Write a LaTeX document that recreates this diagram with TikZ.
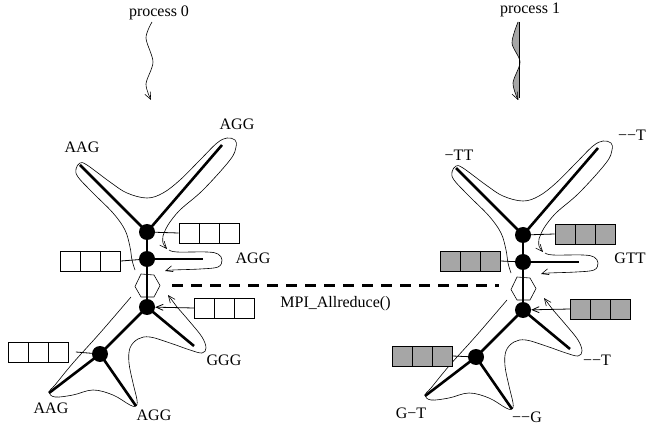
\documentclass[tikz,border=0pt]{standalone}
\usepackage{fontspec}
\setmainfont{Liberation Serif}
\usetikzlibrary{arrows.meta,shapes.geometric}
\tikzset{
  dot/.style={circle,fill=black,inner sep=0pt,minimum size=16pt},
  hexline/.style={line width=0.6pt},
  branch/.style={line width=2.6pt},
  contour/.style={line width=0.6pt},
  tipped/.style={-{Straight Barb[length=7pt,width=6pt]}},
  cellbox/.style={draw,line width=0.8pt,minimum width=60pt,minimum height=20pt,inner sep=0pt,
    path picture={\draw[line width=0.8pt]
      ([xshift=-10pt]path picture bounding box.north) -- ([xshift=-10pt]path picture bounding box.south)
      ([xshift=10pt]path picture bounding box.north) -- ([xshift=10pt]path picture bounding box.south);}},
  graybox/.style={cellbox,fill=black!35},
  lbl/.style={font=\fontsize{16}{19}\selectfont,inner sep=0pt},
  link/.style={line width=0.8pt},
  mpi/.style={line width=2.6pt,dash pattern=on 11pt off 8pt},
}
\newcommand\phylotree[1]{%
  \node[dot] (#1a) at (147,232) {};
  \node[dot] (#1b) at (147,259) {};
  \node[dot] (#1c) at (147,307) {};
  \node[dot] (#1d) at (100,354) {};
  \coordinate (#1h) at (147,285.5);
  \coordinate (#1hw) at (135,286.5);
  \coordinate (#1he) at (160,285.5);
  \draw[hexline] (#1hw) -- (141,274) -- (154,275) -- (#1he) -- (154,297) -- (141,297) -- cycle;
  \coordinate (#1t1) at (80,165);
  \coordinate (#1t2) at (222,145);
  \coordinate (#1t3) at (203,259);
  \coordinate (#1t4) at (194,346);
  \coordinate (#1t5) at (49,393);
  \coordinate (#1t6) at (136,406);
  \draw[branch] (#1t1) -- (#1a.center) -- (#1t2);
  \draw[branch] (#1a.center) -- (#1b.center) -- (#1t3);
  \draw[branch] (#1b.center) -- (#1c.center);
  \draw[branch] (#1t4) -- (#1c.center) -- (#1d.center) -- (#1t5);
  \draw[branch] (#1d.center) -- (#1t6);
  % upper envelope
  \draw[contour] plot[smooth,tension=0.6] coordinates {(135,270) (132,260) (130,247) (125,230) (113,213) (93,193) (78,177) (76,169) (80,163) (87,165) (110,182) (127,193) (147,198) (163,193) (180,180) (200,160) (217,143) (227,138) (235,140) (236,147) (230,160) (203,190) (180,210) (168,225) (163,236)};
  \draw[contour,tipped] plot[smooth,tension=0.6] coordinates {(163,236) (163,243) (167,249)};
  \draw[contour,tipped] plot[smooth,tension=0.6] coordinates {(169,250) (177,252) (207,252) (218,254) (222,260) (218,267) (200,269) (173,270) (165,271)};
  % lower envelope
  \draw[contour] plot[smooth,tension=0.6] coordinates {(131,297) (100,333) (73,363) (55,385) (49,392) (55,397) (73,395) (93,390) (113,395) (130,405) (136,406) (137,400) (133,383) (129,363) (130,348) (138,339) (150,337) (170,343) (190,350) (202,353) (206,348) (202,337) (190,322) (177,307)};
  \draw[contour,tipped] plot[smooth,tension=0.6] coordinates {(177,307) (168,295)};
}
\begin{document}
\begin{tikzpicture}[x=1pt,y=-1pt]
\useasboundingbox (0,0) rectangle (647,427);
% ---------- process 0 ----------
\node[lbl] (p0) at (159,13) {process 0};
\draw[contour,tipped] plot[smooth] coordinates {(152,22) (146,38) (153,62) (146,84) (151,100)};
\phylotree{l}
\node[cellbox] (lb1) at (209,233) {};
\node[cellbox] (lb2) at (90.5,261) {};
\node[cellbox] (lb3) at (224.5,308) {};
\node[cellbox] (lb4) at (38.5,352) {};
\draw[link] (la) -- (lb1.west);
\draw[link] (lb2.east) -- (lb);
\draw[link,tipped] (lb3.west) -- (lc);
\draw[link] ([xshift=7pt]lb4.east) -- (ld);
\node[lbl] at (82,147) {AAG};
\node[lbl] at (237,124) {AGG};
\node[lbl] at (253,258) {AGG};
\node[lbl] at (224,360) {GGG};
\node[lbl] at (51,408) {AAG};
\node[lbl] at (154,415) {AGG};
% ---------- process 1 ----------
\node[lbl] (p1) at (530,10) {process 1};
\fill[black!35] plot[smooth] coordinates {(518,22) (512,43) (520,62) (513,83) (518,100)} -- (519,100) -- (519,22) -- cycle;
\draw[contour] (519,22) -- (519,98);
\draw[contour,tipped] plot[smooth] coordinates {(518,22) (512,43) (520,62) (513,83) (518,100)};
\begin{scope}[shift={(376,3)}]
\phylotree{r}
\end{scope}
\node[graybox] (rb1) at (585,234) {};
\node[graybox] (rb2) at (470,261) {};
\node[graybox] (rb3) at (600.5,309) {};
\node[graybox] (rb4) at (422,356) {};
\draw[link] (ra) -- (rb1.west);
\draw[link] (rb2.east) -- (rb);
\draw[link,tipped] (rb3.west) -- (rc);
\draw[link] (rb4.east) -- (rd);
\node[lbl] at (459,155) {−TT};
\node[lbl] at (632,135) {−−T};
\node[lbl] at (630,258) {GTT};
\node[lbl] at (597,360) {−−T};
\node[lbl] at (411,413) {G−T};
\node[lbl] at (527,417) {−−G};
% ---------- MPI ----------
\draw[mpi,shorten <=12pt,shorten >=12pt] (lhe) -- (lhe -| rhw)
  node[lbl,midway,below=10pt] {MPI\_Allreduce()};
\end{tikzpicture}
\end{document}
